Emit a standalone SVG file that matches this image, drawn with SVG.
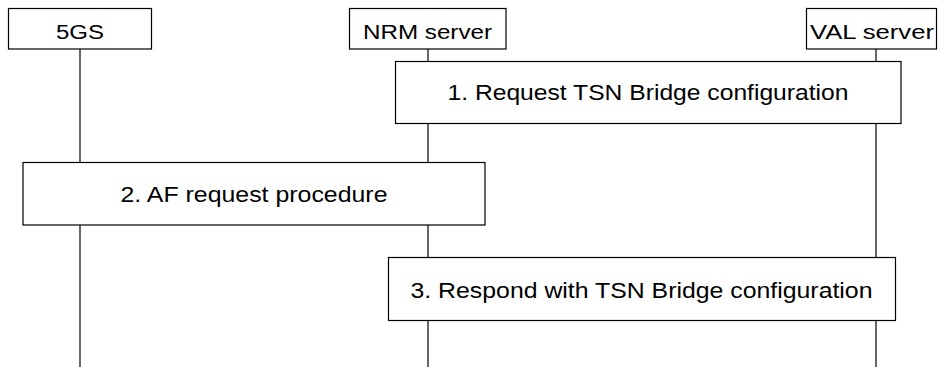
<svg xmlns="http://www.w3.org/2000/svg" width="938" height="367" viewBox="0 0 938 367">
<style>
.box{fill:#fff;stroke:#000;stroke-width:1.2}
.life{stroke:#000;stroke-width:1.2;fill:none}
text{font-family:"Liberation Sans",Arial,sans-serif;font-size:20px;fill:#000;text-anchor:middle}
.step{font-size:22px}
</style>
<rect width="938" height="367" fill="#fff"/>
<g id="connectors">
<line class="life" x1="80" y1="49" x2="80" y2="367"/>
<line class="life" x1="428" y1="49" x2="428" y2="367"/>
<line class="life" x1="876" y1="49" x2="876" y2="367"/>
</g>
<g id="n5gs"><rect class="box" x="8.5" y="8.5" width="143" height="40.5"/><text x="80" y="39" textLength="48" lengthAdjust="spacingAndGlyphs">5GS</text></g>
<g id="nrm"><rect class="box" x="349.5" y="8.5" width="156.5" height="40.5"/><text x="427.5" y="39" textLength="129" lengthAdjust="spacingAndGlyphs">NRM server</text></g>
<g id="val"><rect class="box" x="806.5" y="8.5" width="130" height="40.5"/><text x="872" y="39" textLength="124" lengthAdjust="spacingAndGlyphs">VAL server</text></g>
<g id="step1"><rect class="box" x="395.5" y="61.5" width="505.5" height="62"/><text class="step" x="648" y="100" textLength="401" lengthAdjust="spacingAndGlyphs">1. Request TSN Bridge configuration</text></g>
<g id="step2"><rect class="box" x="23" y="162.5" width="462" height="62.5"/><text class="step" x="254" y="202" textLength="267" lengthAdjust="spacingAndGlyphs">2. AF request procedure</text></g>
<g id="step3"><rect class="box" x="388.5" y="257.5" width="507" height="63"/><text class="step" x="641.5" y="297.5" textLength="462" lengthAdjust="spacingAndGlyphs">3. Respond with TSN Bridge configuration</text></g>
</svg>
